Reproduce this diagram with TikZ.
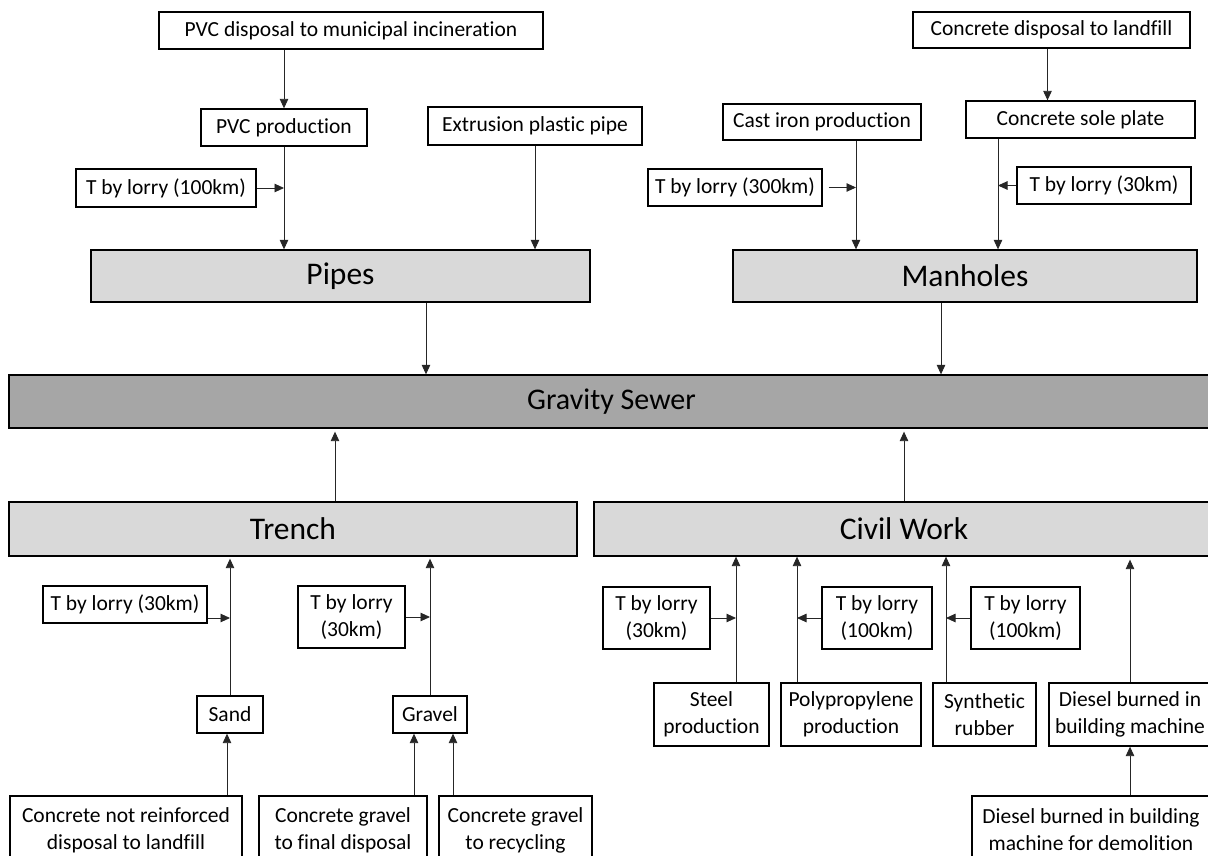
\documentclass[tikz,border=0pt]{standalone}
\usepackage{fontspec}
\setmainfont{Carlito}[Ligatures=CommonOff]
\usetikzlibrary{arrows.meta}

\definecolor{lightgrey}{HTML}{D9D9D9}
\definecolor{midgrey}{HTML}{A6A6A6}

\tikzset{
  box/.style={draw, line width=1.3pt, align=center, inner sep=0pt, font=\fontsize{21.5}{27}\selectfont},
  block/.style={box, fill=lightgrey, font=\fontsize{31.5}{36}\selectfont},
  sewer/.style={box, fill=midgrey, font=\fontsize{30}{36}\selectfont},
  feed/.style={line width=0.9pt, black!85}
}

\begin{document}
\begin{tikzpicture}[>={Triangle[length=9.5pt,width=8.5pt]}, x=1pt, y=-1pt]
\useasboundingbox (0,0) rectangle (1208,856);

% pipes branch
\node[box, minimum width=384pt, minimum height=37pt]  (pvcdisp)   at (351,30.5)   {PVC disposal to municipal incineration};
\node[box, minimum width=166pt, minimum height=37pt]  (pvcprod)   at (284,127.5)  {PVC production};
\node[box, minimum width=214pt, minimum height=38pt]  (extrusion) at (535,126)    {Extrusion plastic pipe};
\node[box, minimum width=180pt, minimum height=38pt]  (lorrya)    at (166,188)    {T by lorry (100km)};
\node[block, minimum width=499pt, minimum height=52pt] (pipes)    at (340.5,276)  {Pipes};

% manholes branch
\node[box, minimum width=277pt, minimum height=36pt]  (concdisp)  at (1051.5,30)  {Concrete disposal to landfill};
\node[box, minimum width=198pt, minimum height=36pt]  (castiron)  at (822,122)    {Cast iron production};
\node[box, minimum width=229pt, minimum height=37pt]  (concsole)  at (1080.5,119.5) {Concrete sole plate};
\node[box, minimum width=174pt, minimum height=37pt]  (lorryb)    at (735,187.5)  {T by lorry (300km)};
\node[box, minimum width=174pt, minimum height=37pt]  (lorryc)    at (1104,185.5) {T by lorry (30km)};
\node[block, minimum width=464pt, minimum height=52pt] (manholes) at (965,276)    {Manholes};

% main system
\node[sewer, minimum width=1205pt, minimum height=53pt] (gravity) at (611.5,401.5) {Gravity Sewer};

% trench branch
\node[block, minimum width=568pt, minimum height=54pt] (trench)   at (293,529)    {Trench};
\node[box, minimum width=164pt, minimum height=37pt]  (lorryd)    at (125,604.5)  {T by lorry (30km)};
\node[box, minimum width=107pt, minimum height=62pt]  (lorrye)    at (351.5,617)  {T by lorry\\(30km)};
\node[box, minimum width=66pt, minimum height=37pt]   (sand)      at (230,714.5)  {Sand};
\node[box, minimum width=74pt, minimum height=37pt]   (gravel)    at (430,714.5)  {Gravel};
\node[box, minimum width=232pt, minimum height=68pt]  (notreinf)  at (126,830)    {Concrete not reinforced\\disposal to landfill};
\node[box, minimum width=168pt, minimum height=68pt]  (gravfinal) at (343,830)    {Concrete gravel\\to final disposal};
\node[box, minimum width=153pt, minimum height=68pt]  (gravrecyc) at (515.5,830)  {Concrete gravel\\to recycling};

% civil work branch
\node[block, minimum width=620pt, minimum height=54pt] (civil)    at (904,529)    {Civil Work};
\node[box, minimum width=107pt, minimum height=62pt]  (lorryf)    at (656.5,618)  {T by lorry\\(30km)};
\node[box, minimum width=110pt, minimum height=62pt]  (lorryg)    at (877,618)    {T by lorry\\(100km)};
\node[box, minimum width=109pt, minimum height=62pt]  (lorryh)    at (1025.5,618) {T by lorry\\(100km)};
\node[box, minimum width=115pt, minimum height=63pt]  (steel)     at (711.5,714.5) {Steel\\production};
\node[box, minimum width=140pt, minimum height=63pt]  (polyprop)  at (851,714.5)  {Polypropylene\\production};
\node[box, minimum width=103pt, minimum height=63pt]  (synth)     at (984.5,714.5) {Synthetic\\rubber};
\node[box, minimum width=162pt, minimum height=63pt]  (diesel)    at (1130,714.5) {Diesel burned in\\building machine};
\node[box, minimum width=238pt, minimum height=68pt]  (demol)     at (1091,830)   {Diesel burned in building\\machine for demolition};

% feed lines that leave a box off its centre
\coordinate (castin)   at ([xshift=34pt]castiron.south);
\coordinate (solein)   at ([xshift=-82.5pt]concsole.south);
\coordinate (steelin)  at ([xshift=24.5pt]steel.north);
\coordinate (polyin)   at ([xshift=-54pt]polyprop.north);
\coordinate (synthin)  at ([xshift=-38.5pt]synth.north);

	\path[->, feed] (pvcprod.north |- pvcdisp.south)  edge  (pvcprod.north)
						(pvcprod.south)  edge  (pvcprod.south |- pipes.north)
						(extrusion.south)  edge  (extrusion.south |- pipes.north)
						(lorrya.east)  edge  (lorrya.east -| pvcprod.south)
						([xshift=85.5pt]pipes.south)  edge  ([xshift=85.5pt]pipes.south |- gravity.north)

						([xshift=-4pt]concdisp.south)  edge  ([xshift=-4pt]concdisp.south |- concsole.north)
						(castin)  edge  (castin |- manholes.north)
						(solein)  edge  (solein |- manholes.north)
						(lorryb.east)  edge[shorten <=6pt]  (lorryb.east -| castin)
						(lorryc.west)  edge  (lorryc.west -| solein)
						([xshift=-24pt]manholes.south)  edge  ([xshift=-24pt]manholes.south |- gravity.north)

						([xshift=42pt]trench.north)  edge[shorten >=3pt]  ([xshift=42pt]trench.north |- gravity.south)
						(civil.north)  edge[shorten >=3pt]  (civil.north |- gravity.south)

						(sand.north)  edge[shorten >=2pt]  (sand.north |- trench.south)
						(gravel.north)  edge[shorten >=2pt]  (gravel.north |- trench.south)
						([yshift=-13.5pt]lorryd.east)  edge  ([yshift=-13.5pt]lorryd.east -| sand.north)
						(lorrye.east)  edge  (lorrye.east -| gravel.north)
						([xshift=-3pt]sand.south |- notreinf.north)  edge  ([xshift=-3pt]sand.south)
						([xshift=-16pt]gravel.south |- gravfinal.north)  edge  ([xshift=-16pt]gravel.south)
						([xshift=23pt]gravel.south |- gravrecyc.north)  edge  ([xshift=23pt]gravel.south)

						(steelin)  edge  (steelin |- civil.south)
						(polyin)  edge  (polyin |- civil.south)
						(synthin)  edge  (synthin |- civil.south)
						(diesel.north)  edge[shorten >=3pt]  (diesel.north |- civil.south)
						(diesel.south |- demol.north)  edge  (diesel.south)
						(lorryf.east)  edge  (lorryf.east -| steelin)
						(lorryg.west)  edge  (lorryg.west -| polyin)
						(lorryh.west)  edge  (lorryh.west -| synthin);
\end{tikzpicture}
\end{document}
